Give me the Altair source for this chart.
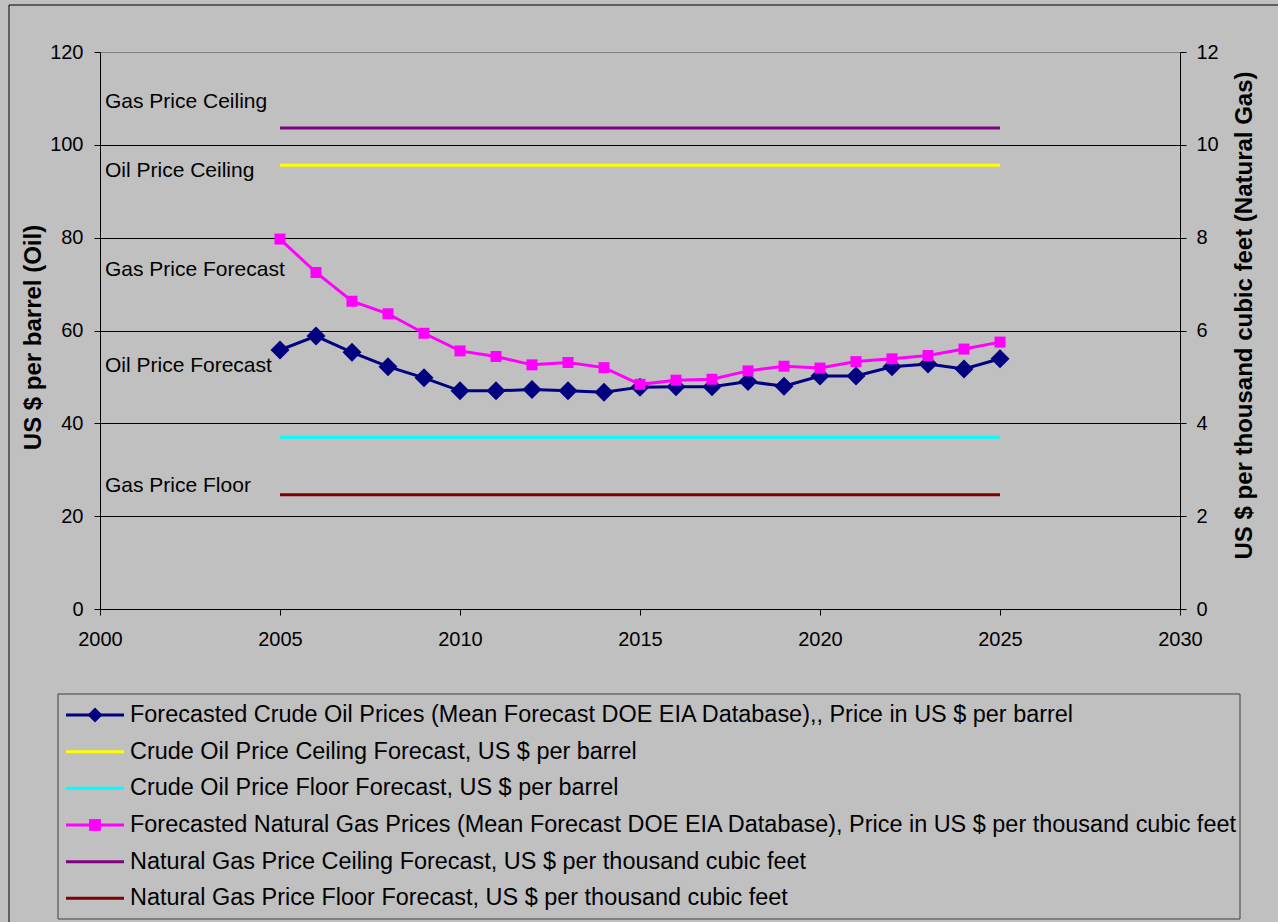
import altair as alt
import pandas as pd

FONT = "Liberation Sans"

# ---- data -------------------------------------------------------------
years = list(range(2005, 2026))
oil_forecast = [55.8, 58.8, 55.3, 52.2, 49.8, 47.0, 47.0, 47.3, 47.0, 46.7, 47.8,
                47.9, 47.9, 49.0, 48.0, 50.2, 50.2, 52.2, 52.8, 51.7, 53.9]
gas_forecast = [7.97, 7.25, 6.63, 6.36, 5.94, 5.56, 5.44, 5.26, 5.31, 5.20, 4.84,
                4.93, 4.95, 5.13, 5.23, 5.19, 5.33, 5.39, 5.46, 5.60, 5.75]

OIL = "Forecasted Crude Oil Prices (Mean Forecast DOE EIA Database),, Price in US $ per barrel"
OIL_CEIL = "Crude Oil Price Ceiling Forecast, US $ per barrel"
OIL_FLOOR = "Crude Oil Price Floor Forecast, US $ per barrel"
GAS = "Forecasted Natural Gas Prices (Mean Forecast DOE EIA Database), Price in US $ per thousand cubic feet"
GAS_CEIL = "Natural Gas Price Ceiling Forecast, US $ per thousand cubic feet"
GAS_FLOOR = "Natural Gas Price Floor Forecast, US $ per thousand cubic feet"

series_names = [OIL, OIL_CEIL, OIL_FLOOR, GAS, GAS_CEIL, GAS_FLOOR]
series_colors = ["#000080", "#FFFF00", "#00FFFF", "#FF00FF", "#800080", "#800000"]

# flat ceiling / floor forecasts
oil_levels = [OIL_CEIL, OIL_FLOOR]
oil_level_values = [95.6, 37.0]
gas_levels = [GAS_CEIL, GAS_FLOOR]
gas_level_values = [10.36, 2.46]
level_start, level_end = 2005, 2025

# text annotations on the oil axis
note_text = ["Gas Price Ceiling", "Oil Price Ceiling", "Gas Price Forecast",
             "Oil Price Forecast", "Gas Price Floor"]
note_value = [109.2, 94.4, 73.0, 52.3, 26.5]
note_year = 2000

oil_df = pd.DataFrame({"year": years, "value": oil_forecast, "series": OIL})
gas_df = pd.DataFrame({"year": years, "value": gas_forecast, "series": GAS})
oil_lv = pd.DataFrame({"series": oil_levels, "value": oil_level_values,
                       "start": level_start, "end": level_end})
gas_lv = pd.DataFrame({"series": gas_levels, "value": gas_level_values,
                       "start": level_start, "end": level_end})
notes = pd.DataFrame({"text": note_text, "value": note_value, "year": note_year})
key_df = pd.DataFrame({"series": series_names})

# ---- encodings --------------------------------------------------------
axis_common = dict(labelFont=FONT, labelFontSize=20, labelColor="black",
                   domainColor="black", tickColor="black", tickSize=6,
                   titleFont=FONT, titleFontSize=24, titleFontWeight="bold",
                   titleColor="black")


def x_enc(field="year"):
    return alt.X(f"{field}:Q",
                 scale=alt.Scale(domain=[2000, 2030], nice=False, zero=False),
                 axis=alt.Axis(values=list(range(2000, 2031, 5)), format="d",
                               title=None, grid=False, labelPadding=14,
                               labelFlush=False, labelOverlap=False, **axis_common))


def y_left(field="value"):
    return alt.Y(f"{field}:Q", scale=alt.Scale(domain=[0, 120], nice=False),
                 axis=alt.Axis(values=list(range(0, 121, 20)),
                               title="US $ per barrel (Oil)",
                               grid=True, gridWidth=1,
                               gridColor={"condition": {"test": "datum.value === 120",
                                                        "value": "#808080"},
                                          "value": "black"},
                               labelPadding=11, titleAngle=270, titleX=-67,
                               titleY=285, titleAlign="center",
                               titleBaseline="middle", **axis_common))


def y_right(field="value"):
    return alt.Y(f"{field}:Q", scale=alt.Scale(domain=[0, 12], nice=False),
                 axis=alt.Axis(values=list(range(0, 13, 2)), orient="right",
                               title="US $ per thousand cubic feet (Natural Gas)",
                               grid=False, labelPadding=10, titleAngle=270,
                               titleX=64, titleY=263, titleAlign="center",
                               titleBaseline="middle", **axis_common))


color_scale = alt.Scale(domain=series_names, range=series_colors)
line_color = alt.Color("series:N", scale=color_scale, legend=None)

# ---- oil (left axis) --------------------------------------------------
oil_levels_rule = alt.Chart(oil_lv).mark_rule(strokeWidth=3).encode(
    x=x_enc("start"), x2="end:Q", y=y_left(), color=line_color)
oil_line = alt.Chart(oil_df).mark_line(strokeWidth=3).encode(
    x=x_enc(), y=y_left(), color=line_color)
oil_pts = alt.Chart(oil_df).mark_point(shape="diamond", filled=True, size=361,
                                       opacity=1, color="#000080").encode(
    x=x_enc(), y=y_left())
note_marks = alt.Chart(notes).mark_text(align="left", baseline="middle", dx=5,
                                        font=FONT, fontSize=21, color="black").encode(
    x=x_enc(), y=y_left(), text="text:N")

# chart-area border
frame = alt.Chart().mark_rect(fillOpacity=0, stroke="black", strokeWidth=1).encode(
    x=alt.value(-91), x2=alt.value(1190), y=alt.value(-47), y2=alt.value(880))

left = alt.layer(frame, oil_levels_rule, oil_line, oil_pts, note_marks)

# ---- gas (right axis) -------------------------------------------------
gas_levels_rule = alt.Chart(gas_lv).mark_rule(strokeWidth=3).encode(
    x=x_enc("start"), x2="end:Q", y=y_right(), color=line_color)
gas_line = alt.Chart(gas_df).mark_line(strokeWidth=3).encode(
    x=x_enc(), y=y_right(), color=line_color)
gas_pts = alt.Chart(gas_df).mark_point(shape="square", filled=True, size=121,
                                       opacity=1, color="#FF00FF").encode(
    x=x_enc(), y=y_right())

right = alt.layer(gas_levels_rule, gas_line, gas_pts)

plot = alt.layer(left, right).resolve_scale(y="independent")

# ---- key below the plot -----------------------------------------------
key_x_scale = alt.Scale(domain=[0, 1], range=[-34, 24])
key_y = alt.Y("series:N", axis=None,
              scale=alt.Scale(type="point", domain=series_names,
                              range=[663, 846.3], padding=0))


def key_x(pos):
    return alt.XDatum(pos, type="quantitative", scale=key_x_scale, axis=None)


key_box = alt.Chart().mark_rect(fillOpacity=0, stroke="#404040", strokeWidth=1).encode(
    x=alt.value(-42), x2=alt.value(1140), y=alt.value(642), y2=alt.value(867))
key_lines = alt.Chart(key_df).mark_rule(strokeWidth=3).encode(
    x=key_x(0), x2=alt.datum(1), y=key_y, color=line_color)
key_oil = alt.Chart(key_df[key_df.series == OIL]).mark_point(
    shape="diamond", filled=True, size=225, opacity=1, color="#000080").encode(
    x=key_x(0.5), y=key_y)
key_gas = alt.Chart(key_df[key_df.series == GAS]).mark_point(
    shape="square", filled=True, size=140, opacity=1, color="#FF00FF").encode(
    x=key_x(0.5), y=key_y)
key_text = alt.Chart(key_df).mark_text(align="left", baseline="middle", dx=6,
                                       font=FONT, fontSize=23.45, color="black").encode(
    x=key_x(1), y=key_y, text="series:N")

key = alt.layer(key_box, key_lines, key_oil, key_gas, key_text)

chart = (
    alt.layer(plot, key)
    .resolve_scale(x="independent", y="independent")
    .properties(width=1080, height=557,
                padding={"left": 100, "top": 52, "right": 98, "bottom": 313},
                autosize=alt.AutoSizeParams(type="none"),
                background="#c0c0c0")
    .configure_view(stroke=None)
)

chart.save("out.html", embed_options={"renderer": "svg", "actions": False})
